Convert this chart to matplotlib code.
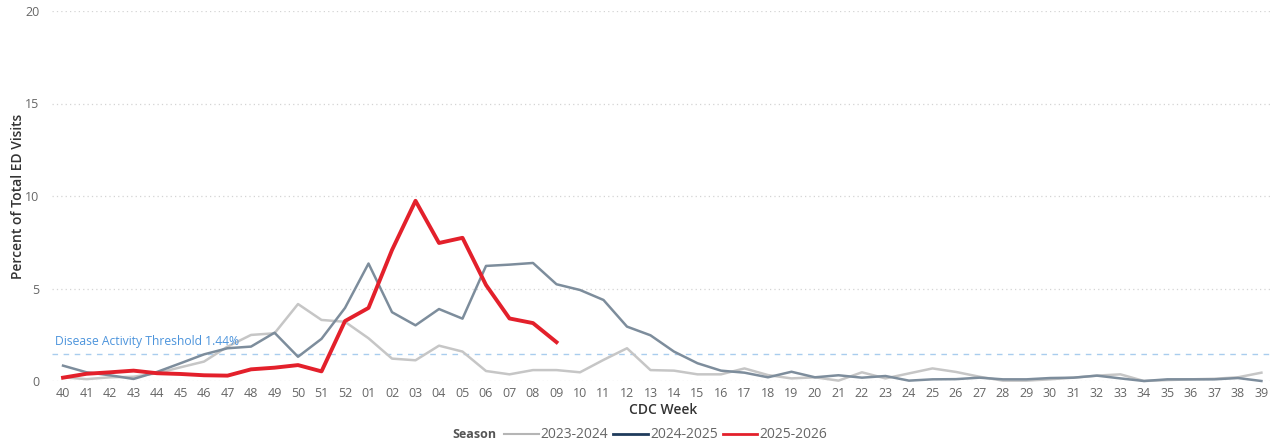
import matplotlib
matplotlib.use("Agg")
import matplotlib.pyplot as plt
from matplotlib.lines import Line2D

weeks = ["40","41","42","43","44","45","46","47","48","49","50","51","52",
         "01","02","03","04","05","06","07","08","09","10","11","12","13",
         "14","15","16","17","18","19","20","21","22","23","24","25","26",
         "27","28","29","30","31","32","33","34","35","36","37","38","39"]

s2023 = [0.20,0.10,0.20,0.23,0.42,0.74,1.05,1.86,2.49,2.58,4.16,3.30,3.20,
         2.31,1.21,1.12,1.91,1.59,0.54,0.36,0.59,0.59,0.47,1.14,1.77,0.59,
         0.56,0.36,0.36,0.68,0.32,0.14,0.20,0.02,0.47,0.14,0.41,0.68,0.49,
         0.23,0.02,0.02,0.09,0.18,0.29,0.36,0.00,0.05,0.09,0.12,0.20,0.45]

s2024 = [0.83,0.47,0.31,0.11,0.49,0.96,1.44,1.77,1.86,2.61,1.31,2.28,3.95,
         6.35,3.72,3.01,3.89,3.37,6.22,6.29,6.38,5.23,4.92,4.38,2.94,2.47,
         1.59,0.96,0.56,0.45,0.20,0.50,0.20,0.31,0.18,0.27,0.02,0.09,0.10,
         0.18,0.09,0.09,0.16,0.18,0.29,0.14,0.00,0.09,0.09,0.09,0.16,0.00]

s2025 = [0.18,0.39,0.47,0.56,0.42,0.38,0.31,0.29,0.63,0.72,0.86,0.52,3.24,
         3.95,7.08,9.74,7.46,7.74,5.19,3.38,3.13,2.10]

threshold = 1.44
yticks = [0, 5, 10, 15, 20]

W, H = 1274, 443
fig = plt.figure(figsize=(W/100, H/100), dpi=100)
ax = fig.add_axes([52/W, (H-381)/H, 1220/W, 370/H])

x = list(range(len(weeks)))
c23 = "#c6c6c6"
c24 = "#7d8d9c"
c25 = "#e3202b"

ax.plot(x, s2023, color=c23, lw=1.8, clip_on=False, zorder=3, solid_joinstyle="round")
ax.plot(x, s2024, color=c24, lw=1.8, clip_on=False, zorder=4, solid_joinstyle="round")
ax.plot(x[:len(s2025)], s2025, color=c25, lw=2.8, clip_on=False, zorder=5, solid_joinstyle="round")

ax.axhline(threshold, color="#a9cdee", lw=1.0, ls=(0, (4, 4)), zorder=2)
ax.text(3/1220, threshold + 0.35, "Disease Activity Threshold 1.44%",
        transform=ax.get_yaxis_transform(), color="#4c94dc", fontsize=8.7,
        family="Open Sans", va="bottom", ha="left")

ax.set_xlim(-0.47, 51.45)
ax.set_ylim(0, 20)
ax.set_yticks(yticks)
ax.set_xticks(x)
ax.set_xticklabels(weeks)
for yv in yticks:
    ax.axhline(yv, color="#d4d4d4", lw=0.9, ls=(0, (1, 2.5)), zorder=1)

for sp in ax.spines.values():
    sp.set_visible(False)
ax.tick_params(axis="both", length=0, labelsize=9, labelcolor="#666666")
ax.tick_params(axis="y", pad=9)
ax.tick_params(axis="x", pad=4)
for lab in ax.get_xticklabels() + ax.get_yticklabels():
    lab.set_family("Open Sans")

fig.text(18/W, 1 - 196/H, "Percent of Total ED Visits", rotation=90,
         ha="center", va="center", fontsize=10, color="#333333",
         family="Open Sans", fontweight="semibold")
fig.text(663/W, 1 - 410/H, "CDC Week", ha="center", va="center",
         fontsize=10, color="#333333", family="Open Sans", fontweight="semibold")

fig.text(474/W, 1 - 435/H, "Season", ha="center", va="center",
         fontsize=9, color="#555555", family="Open Sans", fontweight="bold")
handles = [Line2D([], [], color="#b5b5b5", lw=1.5),
           Line2D([], [], color="#1f3b5c", lw=2.0),
           Line2D([], [], color=c25, lw=2.0)]
leg = fig.legend(handles, ["2023-2024", "2024-2025", "2025-2026"],
                 loc="center left", bbox_to_anchor=(504/W, 1 - 435/H),
                 ncol=3, frameon=False, handlelength=2.5, handletextpad=0.15,
                 columnspacing=0.35, borderaxespad=0, borderpad=0,
                 prop={"family": "Open Sans", "size": 10})
for t in leg.get_texts():
    t.set_color("#666666")

fig.savefig("out.png", dpi=100)
